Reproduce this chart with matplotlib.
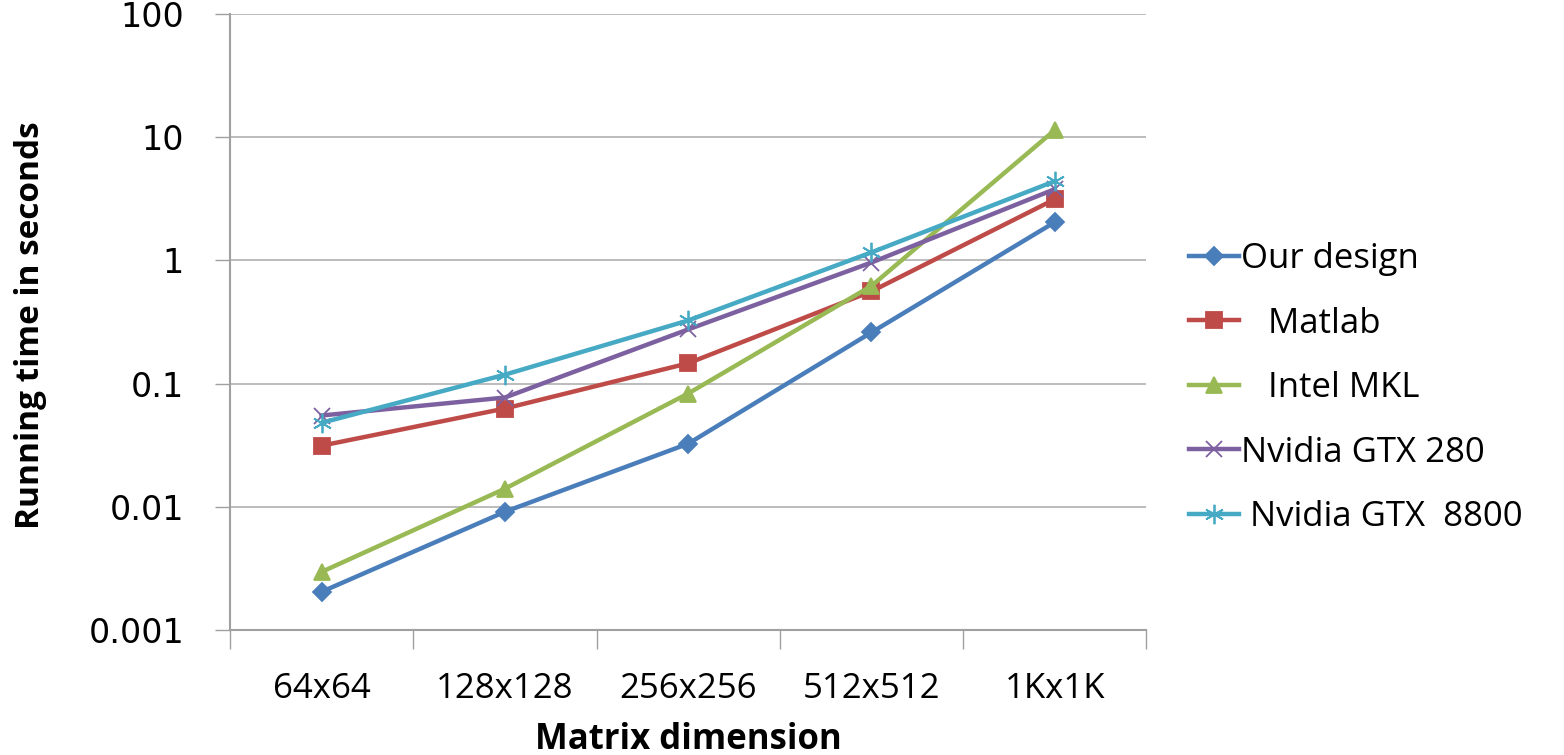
import matplotlib
matplotlib.use("Agg")
import matplotlib.pyplot as plt
import numpy as np

plt.rcParams['font.family'] = ['Open Sans', 'DejaVu Sans']

categories = ["64x64", "128x128", "256x256", "512x512", "1Kx1K"]
our_design = [0.00204, 0.0091, 0.0325, 0.26, 2.04]
matlab = [0.0313, 0.0627, 0.146, 0.56, 3.13]
intel_mkl = [0.00296, 0.014, 0.083, 0.62, 11.4]
gtx280 = [0.055, 0.077, 0.275, 0.96, 3.78]
gtx8800 = [0.048, 0.118, 0.325, 1.16, 4.39]

series = [
    ("Our design", our_design, "#4A7EBB", "D", 9),
    ("   Matlab", matlab, "#BE4B48", "s", 11),
    ("   Intel MKL", intel_mkl, "#98B954", "^", 11),
    ("Nvidia GTX 280", gtx280, "#7D60A0", "x", 12),
    (" Nvidia GTX  8800", gtx8800, "#46AAC5", (6, 2, 0), 14),
]

fig = plt.figure(figsize=(15.64, 7.55), dpi=100)
ax = fig.add_axes([0.147, 0.1656, 0.586, 0.816])

x = np.arange(len(categories))
for name, vals, color, marker, ms in series:
    ax.plot(x, vals, color=color, lw=3.2, marker=marker, markersize=ms,
            markeredgewidth=1.3, markeredgecolor=color, markerfacecolor=color,
            label=name)

ax.set_yscale('log')
ax.set_ylim(0.001, 100)
ax.set_xlim(-0.5, len(categories) - 0.5)
ax.set_yticks([0.001, 0.01, 0.1, 1, 10, 100])
ax.set_yticklabels(["0.001", "0.01", "0.1", "1", "10", "100"],
                   fontfamily='DejaVu Sans')
ax.minorticks_off()
ax.set_xticks(x)
ax.set_xticklabels(categories)
ax.set_xticks(np.arange(-0.5, len(categories)), minor=True)
ax.tick_params(axis='x', which='major', length=0, pad=30, labelsize=25)
ax.tick_params(axis='x', which='minor', length=14, width=1, color='#A0A0A0')
ax.tick_params(axis='y', which='major', length=11, width=1, color='#A0A0A0',
               labelsize=24, pad=22)

ax.yaxis.grid(True, color='#B0B0B0', lw=1.2)
ax.set_axisbelow(True)
for s in ['top', 'right']:
    ax.spines[s].set_visible(False)
for s in ['left', 'bottom']:
    ax.spines[s].set_color('#A0A0A0')
    ax.spines[s].set_linewidth(1.5)

ax.set_xlabel("Matrix dimension", fontsize=25, fontweight='bold')
ax.xaxis.set_label_coords(0.5, -0.207)
ax.xaxis.label.set_va('bottom')
ax.set_ylabel("Running time in seconds", fontsize=24, fontweight='bold')
ax.yaxis.set_label_coords(-0.2, 0.495)

leg = fig.legend(loc='center left', bbox_to_anchor=(0.740, 0.486), frameon=False,
                 fontsize=25, handlelength=1.45, handletextpad=0.05,
                 labelspacing=0.88)

fig.savefig("out.png", dpi=100)
